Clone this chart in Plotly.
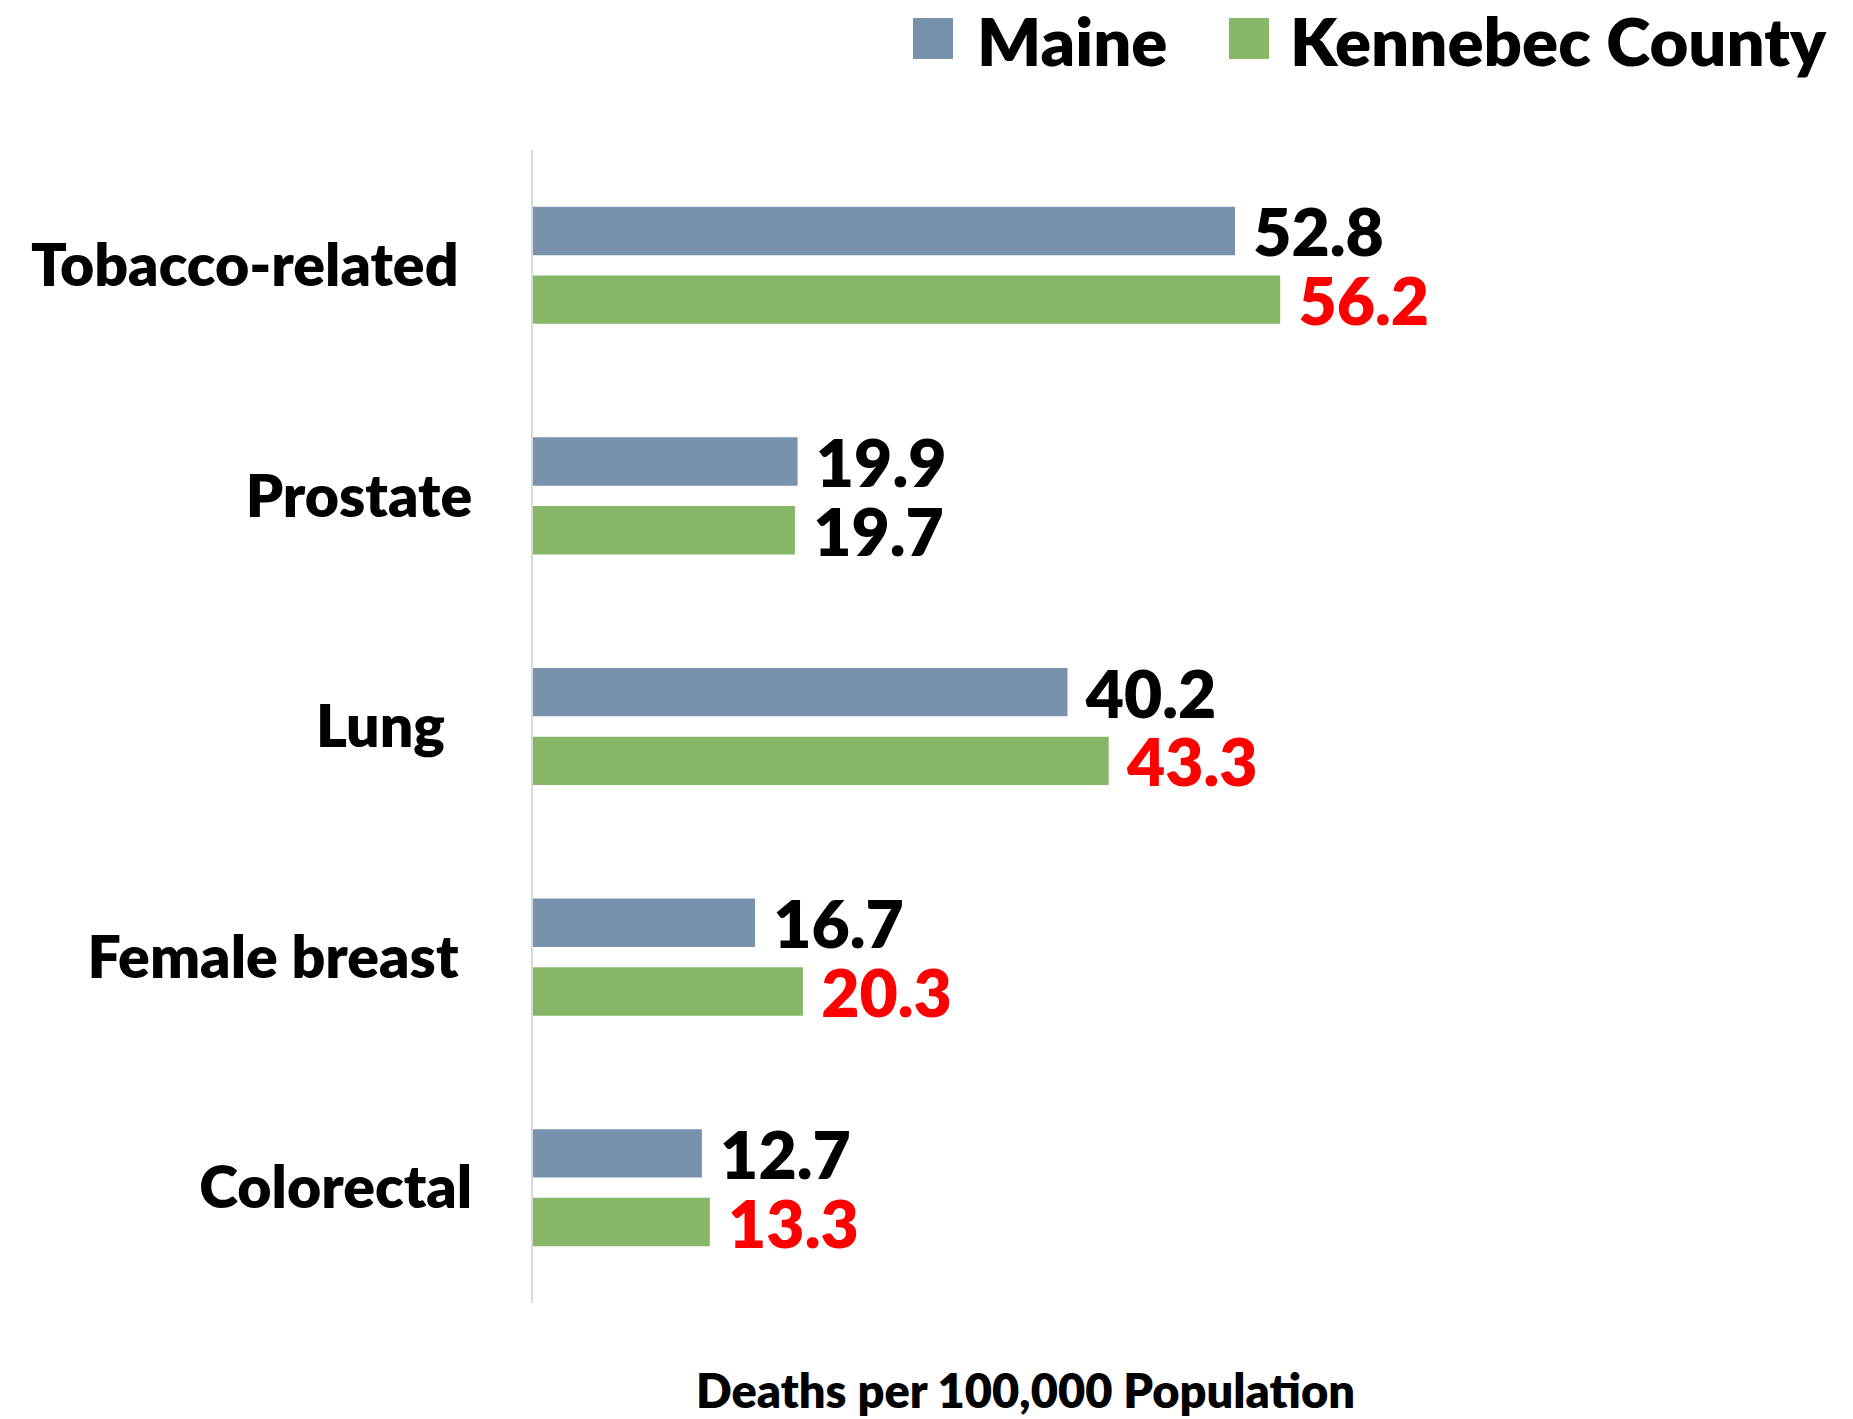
import plotly.graph_objects as go

# Cancer death rates, deaths per 100,000 population
categories = ["Tobacco-related", "Prostate", "Lung", "Female breast", "Colorectal"]
tick_labels = ["Tobacco-related\u00a0", "Prostate", "Lung\u00a0\u00a0", "Female breast\u00a0", "Colorectal"]
maine = [52.8, 19.9, 40.2, 16.7, 12.7]
kennebec = [56.2, 19.7, 43.3, 20.3, 13.3]
kennebec_label_colors = ["#FF0000", "#000000", "#FF0000", "#FF0000", "#FF0000"]

MAINE_COLOR = "#7891AC"
KENNEBEC_COLOR = "#85B767"
FONT = "Lato"
WEIGHT = 800

W, H = 1853, 1419
L, R, T, B = 533, 60, 150, 116
PW, PH = W - L - R, H - T - B


def px_x(x):
    return (x - L) / PW


def px_y(y):
    return 1 - (y - T) / PH


fig = go.Figure()

fig.add_trace(go.Bar(
    name="Maine", y=categories, x=maine, orientation="h",
    width=0.21, offset=-0.254,
    marker=dict(color=MAINE_COLOR, line=dict(width=0)),
    text=[f"\u00a0{v:.1f}" for v in maine], textposition="outside",
    textfont=dict(family=FONT, size=66, color="#000000", weight=WEIGHT),
    cliponaxis=False, constraintext="none", showlegend=False,
))
fig.add_trace(go.Bar(
    name="Kennebec County", y=categories, x=kennebec, orientation="h",
    width=0.21, offset=0.044,
    marker=dict(color=KENNEBEC_COLOR, line=dict(width=0)),
    text=[f"\u00a0{v:.1f}" for v in kennebec], textposition="outside",
    textfont=dict(family=FONT, size=66, color=kennebec_label_colors, weight=WEIGHT),
    cliponaxis=False, constraintext="none", showlegend=False,
))

# Legend drawn as colour swatches with labels
legend_items = [("Maine", MAINE_COLOR, 913, 975), ("Kennebec County", KENNEBEC_COLOR, 1229, 1288)]
shapes = []
annotations = []
for label, color, sx, tx in legend_items:
    shapes.append(dict(type="rect", xref="paper", yref="paper",
                       x0=px_x(sx), x1=px_x(sx + 40), y0=px_y(59), y1=px_y(18),
                       fillcolor=color, line=dict(width=0)))
    annotations.append(dict(xref="paper", yref="paper", x=px_x(tx), y=px_y(40),
                            xanchor="left", yanchor="middle", showarrow=False,
                            text=label, font=dict(family=FONT, size=67, color="#000000", weight=WEIGHT)))

annotations.append(dict(xref="paper", yref="paper", x=px_x(1025), y=px_y(1390),
                        xanchor="center", yanchor="middle", showarrow=False,
                        text="Deaths per 100,000 Population",
                        font=dict(family=FONT, size=47, color="#000000", weight=WEIGHT)))

fig.update_layout(
    width=W, height=H,
    margin=dict(l=L, r=R, t=T, b=B, pad=0),
    paper_bgcolor="white", plot_bgcolor="white",
    barmode="group",
    shapes=shapes, annotations=annotations,
    xaxis=dict(range=[0, PW / 13.295], showgrid=False, zeroline=False,
               showticklabels=False, showline=False, fixedrange=True),
    yaxis=dict(categoryorder="array", categoryarray=categories, autorange="reversed",
               tickvals=categories, ticktext=tick_labels,
               showgrid=False, zeroline=False, showline=True,
               linecolor="#D9D9D9", linewidth=2, ticks="",
               ticklabelstandoff=47,
               tickfont=dict(family=FONT, size=59, color="#000000", weight=WEIGHT)),
)

fig.write_html("out.html")
